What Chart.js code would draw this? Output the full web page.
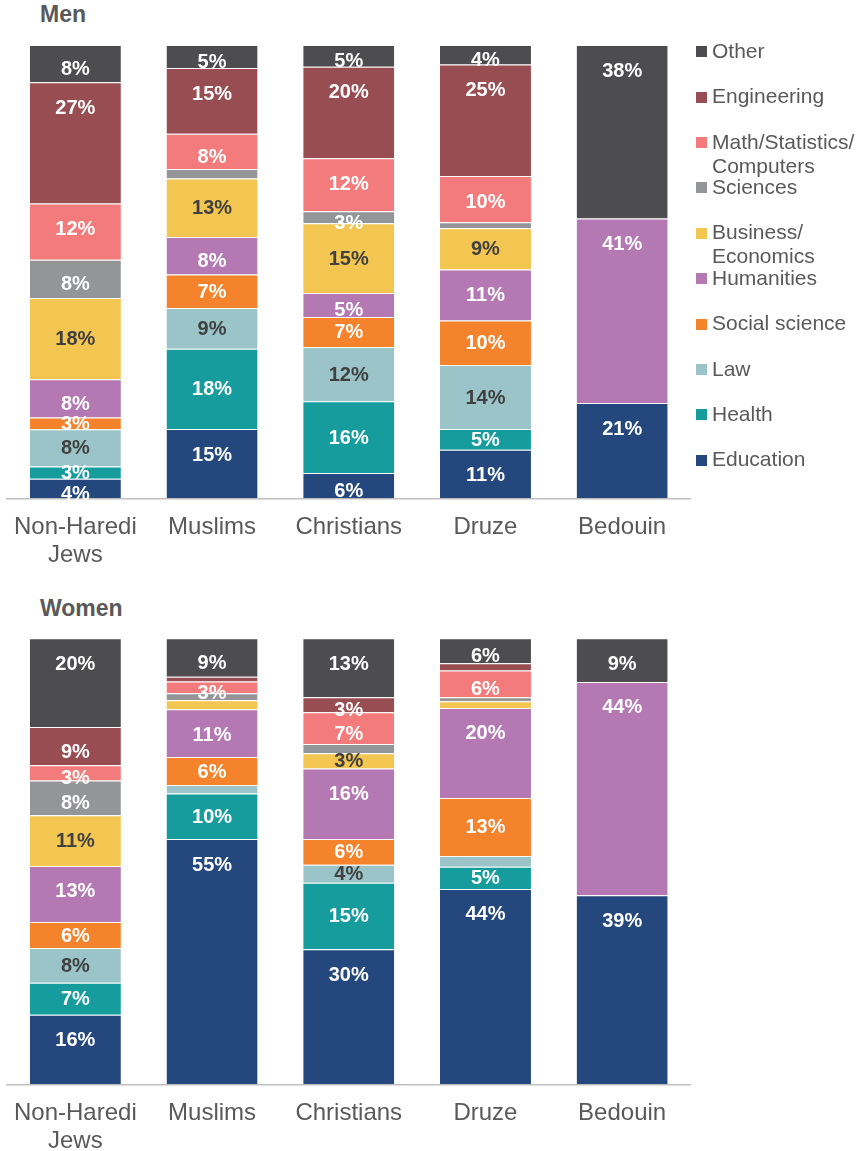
<!DOCTYPE html>
<html>
<head>
<meta charset="utf-8">
<script src="https://cdn.jsdelivr.net/npm/chart.js@4.4.1/dist/chart.umd.min.js"></script>
<style>
  body { margin: 0; background: #fff; font-family: "Liberation Sans", Arial, sans-serif; }
  #page { position: relative; width: 858px; height: 1151px; overflow: hidden; }
  .title { position: absolute; left: 40px; font-weight: bold; font-size: 23px; line-height: 23px; color: #595959; }
  .box { position: absolute; left: 0; width: 858px; }
  #legend { position: absolute; left: 696px; top: 0; }
  .item { position: absolute; left: 0; white-space: nowrap; font-size: 21px; line-height: 24px; color: #595959; }
  .sw { position: absolute; left: 0; top: 7.5px; width: 11px; height: 11px; }
  .txt { position: absolute; left: 16px; top: 0; }
</style>
</head>
<body>
<div id="page">
  <div class="title" style="top:3px">Men</div>
  <div class="box" style="top:0; height:590px"><canvas id="men"></canvas></div>
  <div class="title" style="top:597px">Women</div>
  <div class="box" style="top:590px; height:561px"><canvas id="women"></canvas></div>
  <div id="legend"></div>
</div>
<script>
// categories (x axis)
var groups = [["Non-Haredi", "Jews"], "Muslims", "Christians", "Druze", "Bedouin"];

// fields of study, bottom of the stack first
var fields = ["Education", "Health", "Law", "Social science", "Humanities",
  "Business/\nEconomics", "Sciences", "Math/Statistics/\nComputers", "Engineering", "Other"];
var colours = ["#24487E", "#179C9D", "#9AC4C8", "#F5832B", "#B479B2",
  "#F3C551", "#939598", "#F47B7B", "#974D52", "#4D4D4F"];
// dark text on the pale segments, centred labels for some fields
var darkLabel = [false, false, true, false, false, true, false, false, false, false];
var centred = [false, true, true, true, false, true, false, false, false, false];

// Men (% of graduates)  -- NHJ, Muslims, Christians, Druze, Bedouin
var menEducation   = [4.3, 15.3, 5.6, 10.7, 21.0];
var menHealth      = [2.7, 17.7, 15.8, 4.6, 0];
var menLaw         = [8.2, 9.0, 12.0, 14.1, 0];
var menSocial      = [2.6, 7.4, 6.6, 9.8, 0];
var menHumanities  = [8.4, 8.3, 5.3, 11.3, 40.7];
var menBusiness    = [17.9, 12.9, 15.4, 9.1, 0];
var menSciences    = [8.4, 2.1, 2.6, 1.3, 0];
var menMath        = [12.4, 7.8, 11.7, 10.2, 0];
var menEngineering = [26.7, 14.5, 20.2, 24.6, 0];
var menOther       = [8.2, 5.1, 4.8, 4.3, 38.3];

// Women (% of graduates)
var womenEducation   = [15.6, 55.0, 30.3, 43.8, 39];
var womenHealth      = [7.2, 10.2, 14.9, 5.0, 0];
var womenLaw         = [7.8, 1.9, 4.0, 2.4, 0];
var womenSocial      = [5.8, 6.3, 5.8, 13.0, 0];
var womenHumanities  = [12.6, 10.7, 15.8, 20.2, 44];
var womenBusiness    = [11.4, 2.0, 3.4, 1.5, 0];
var womenSciences    = [7.8, 1.6, 2.1, 0.9, 0];
var womenMath        = [3.4, 2.6, 7.1, 6.0, 0];
var womenEngineering = [8.6, 1.1, 3.4, 1.6, 0];
var womenOther       = [19.9, 8.6, 13.2, 5.6, 9];

var menSeries = [menEducation, menHealth, menLaw, menSocial, menHumanities,
  menBusiness, menSciences, menMath, menEngineering, menOther];
var womenSeries = [womenEducation, womenHealth, womenLaw, womenSocial, womenHumanities,
  womenBusiness, womenSciences, womenMath, womenEngineering, womenOther];

// 100% stacked: each column scaled to its own total
function shares(series) {
  var totals = groups.map(function (g, j) {
    return series.reduce(function (s, arr) { return s + arr[j]; }, 0);
  });
  return series.map(function (arr) {
    return arr.map(function (v, j) { return totals[j] ? v / totals[j] * 100 : 0; });
  });
}

// percent labels inside the segments
var segmentLabels = {
  id: "segmentLabels",
  afterDatasetsDraw: function (chart) {
    var ctx = chart.ctx;
    ctx.save();
    ctx.font = "bold 20px 'Liberation Sans', Arial, sans-serif";
    ctx.textAlign = "center";
    ctx.textBaseline = "middle";
    chart.data.datasets.forEach(function (ds, i) {
      var meta = chart.getDatasetMeta(i);
      meta.data.forEach(function (bar, j) {
        var v = ds.raw[j];
        if (v < 2.5) return;
        var p = bar.getProps(["x", "y", "base"], true);
        var top = Math.min(p.y, p.base);
        var h = Math.abs(p.base - p.y);
        var y = ds.centred ? top + h / 2 : top + Math.min(25, h / 2 + 5);
        ctx.fillStyle = ds.labelColour;
        ctx.fillText(Math.round(v) + "%", p.x, y + 1);
      });
    });
    ctx.restore();
  }
};

function makeChart(id, series, padTop, axisHeight) {
  var s = shares(series);
  var datasets = fields.map(function (f, i) {
    return {
      label: f,
      data: s[i],
      raw: series[i],
      backgroundColor: colours[i],
      borderColor: "rgba(255,255,255,0.45)",
      borderWidth: { top: 1, left: 0, right: 0, bottom: 0 },
      borderSkipped: false,
      barPercentage: 0.666,
      categoryPercentage: 1,
      labelColour: darkLabel[i] ? "#404040" : "#FFFFFF",
      centred: centred[i]
    };
  });
  return new Chart(document.getElementById(id), {
    type: "bar",
    data: { labels: groups, datasets: datasets },
    options: {
      responsive: true,
      maintainAspectRatio: false,
      animation: false,
      layout: { padding: { left: 7, right: 167.5, top: padTop, bottom: 0 } },
      plugins: { legend: { display: false }, tooltip: { enabled: false } },
      scales: {
        x: {
          stacked: true,
          grid: { display: false, drawTicks: false },
          border: { display: true, color: "#BFBFBF", width: 1.5 },
          ticks: {
            color: "#595959",
            font: { family: "'Liberation Sans', Arial, sans-serif", size: 24, lineHeight: 1.17 },
            padding: 15,
            maxRotation: 0,
            autoSkip: false
          },
          afterFit: function (scale) {
            scale.height = axisHeight;
            scale.paddingLeft = 0;
            scale.paddingRight = 0;
          }
        },
        y: { stacked: true, display: false, min: 0, max: 100 }
      }
    },
    plugins: [segmentLabels]
  });
}

makeChart("men", menSeries, 45, 91.7);
makeChart("women", womenSeries, 48.3, 66.7);

// legend, top of stack first
var legend = document.getElementById("legend");
for (var k = fields.length - 1, row = 0; k >= 0; k--, row++) {
  var item = document.createElement("div");
  item.className = "item";
  item.style.top = (38.7 + 45.4 * row) + "px";
  var sw = document.createElement("div");
  sw.className = "sw";
  sw.style.background = colours[k];
  var txt = document.createElement("div");
  txt.className = "txt";
  txt.innerHTML = fields[k].replace("\n", "<br>");
  item.appendChild(sw);
  item.appendChild(txt);
  legend.appendChild(item);
}
</script>
</body>
</html>
